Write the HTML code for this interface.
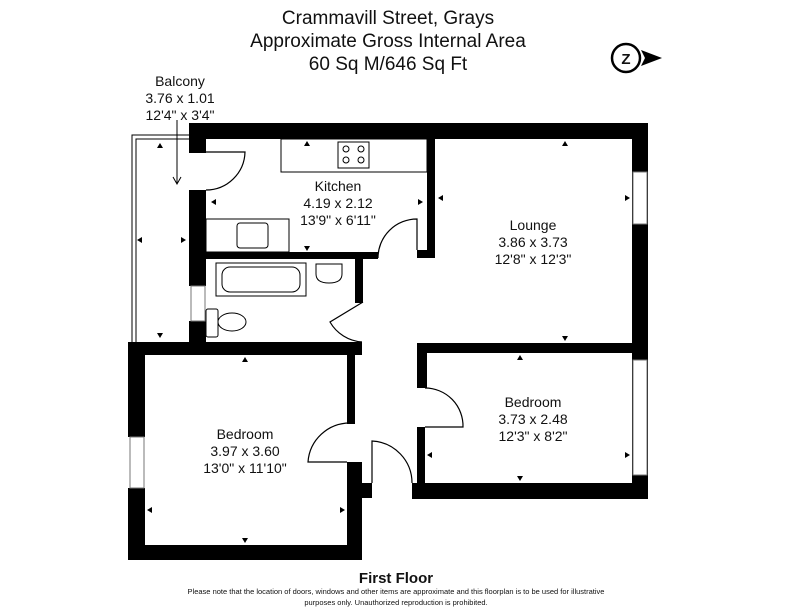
<!DOCTYPE html>
<html><head><meta charset="utf-8"><style>
body{margin:0;background:#fff}
svg{display:block}
text{font-family:"Liberation Sans",sans-serif;fill:#111}
</style></head><body>
<svg width="792" height="612" viewBox="0 0 792 612" xmlns="http://www.w3.org/2000/svg">
<g text-anchor="middle" font-size="19">
<text x="388" y="24">Crammavill Street, Grays</text>
<text x="388" y="47">Approximate Gross Internal Area</text>
<text x="388" y="70">60 Sq M/646 Sq Ft</text>
</g>
<circle cx="626" cy="58" r="14" fill="#fff" stroke="#000" stroke-width="2.5"/>
<text x="626" y="64" text-anchor="middle" font-size="15" font-weight="bold">Z</text>
<polygon points="641,50 662,58 641,66 645,58" fill="#000"/>
<g text-anchor="middle" font-size="14">
<text x="180" y="86">Balcony</text>
<text x="180" y="103">3.76 x 1.01</text>
<text x="180" y="120">12'4" x 3'4"</text>
<text x="338" y="191">Kitchen</text>
<text x="338" y="208">4.19 x 2.12</text>
<text x="338" y="225">13'9" x 6'11"</text>
<text x="533" y="230">Lounge</text>
<text x="533" y="247">3.86 x 3.73</text>
<text x="533" y="264">12'8" x 12'3"</text>
<text x="533" y="407">Bedroom</text>
<text x="533" y="424">3.73 x 2.48</text>
<text x="533" y="441">12'3" x 8'2"</text>
<text x="245" y="439">Bedroom</text>
<text x="245" y="456">3.97 x 3.60</text>
<text x="245" y="473">13'0" x 11'10"</text>
</g>
<text x="396" y="583" text-anchor="middle" font-size="15" font-weight="bold">First Floor</text>
<g text-anchor="middle" font-size="7.5" style="fill:#888">
<text x="396" y="594">Please note that the location of doors, windows and other items are approximate and this floorplan is to be used for illustrative</text>
<text x="396" y="605">purposes only. Unauthorized reproduction is prohibited.</text>
</g>
<!-- balcony -->
<g fill="none" stroke="#000" stroke-width="1">
<path d="M189,135 H132 V342"/><path d="M189,139 H136 V342"/>
<line x1="177" y1="120" x2="177" y2="183"/><path d="M173,177 L177,184 L181,177"/>
</g>
<!-- walls -->
<g fill="#000">
<rect x="189" y="123" width="459" height="16"/>
<rect x="189" y="123" width="17" height="30"/>
<rect x="189" y="190" width="17" height="68"/>
<rect x="427" y="138" width="8" height="120"/>
<rect x="417" y="250" width="18" height="8"/>
<rect x="189" y="252" width="189" height="7"/>
<rect x="632" y="123" width="16" height="376"/>
<rect x="189" y="258" width="17" height="28"/>
<rect x="189" y="321" width="17" height="25"/>
<rect x="355" y="258" width="8" height="45"/>
<rect x="128" y="342" width="234" height="13"/>
<rect x="128" y="342" width="17" height="95"/>
<rect x="128" y="488" width="17" height="72"/>
<rect x="128" y="545" width="234" height="15"/>
<rect x="347" y="342" width="8" height="82"/>
<rect x="347" y="462" width="15" height="98"/>
<rect x="355" y="483" width="17" height="15"/>
<rect x="427" y="343" width="221" height="10"/>
<rect x="417" y="343" width="10" height="45"/>
<rect x="417" y="427" width="8" height="60"/>
<rect x="412" y="483" width="236" height="16"/>
</g>
<!-- windows -->
<g fill="#fff" stroke="#777" stroke-width="1">
<rect x="633" y="172" width="14" height="52"/>
<rect x="633" y="360" width="14" height="115"/>
<rect x="130" y="437" width="14" height="51"/>
<rect x="191" y="286" width="14" height="35"/>
</g>
<!-- doors -->
<g fill="none" stroke="#000" stroke-width="1.2">
<path d="M206,152 H245 A39,39 0 0 1 206,190"/>
<path d="M378,258 A39,39 0 0 1 417,219 V250"/>
<path d="M363,302 L330,322 A40,40 0 0 0 362,342"/>
<path d="M347,462 H308 A42,42 0 0 1 350,423"/>
<path d="M372,483 V441 A42,42 0 0 1 412,483"/>
<path d="M425,427 H463 A38,38 0 0 0 425,388"/>
</g>
<!-- fixtures -->
<g fill="none" stroke="#000" stroke-width="1">
<rect x="281" y="139" width="146" height="33"/>
<rect x="338" y="142" width="31" height="26"/>
<circle cx="346" cy="149" r="3"/><circle cx="361" cy="149" r="3"/>
<circle cx="346" cy="160" r="3"/><circle cx="361" cy="160" r="3"/>
<rect x="206" y="219" width="83" height="33"/>
<rect x="237" y="223" width="31" height="25" rx="3"/>
<rect x="216" y="263" width="90" height="33"/>
<rect x="222" y="267" width="78" height="25" rx="8"/>
<path d="M316,264 H342 V274 Q342,283 329,283 Q316,283 316,274 Z"/>
<rect x="206" y="309" width="12" height="28" rx="2"/>
<ellipse cx="232" cy="322" rx="14" ry="9"/>
</g>
<!-- dimension arrows -->
<g fill="#000">
<polygon points="160,143 163,148 157,148"/><polygon points="160,338 163,333 157,333"/>
<polygon points="137,240 142,237 142,243"/><polygon points="186,240 181,237 181,243"/>
<polygon points="211,202 216,199 216,205"/><polygon points="423,202 418,199 418,205"/>
<polygon points="307,141 310,146 304,146"/><polygon points="307,251 310,246 304,246"/>
<polygon points="565,141 568,146 562,146"/><polygon points="565,341 568,336 562,336"/>
<polygon points="438,198 443,195 443,201"/><polygon points="630,198 625,195 625,201"/>
<polygon points="245,357 248,362 242,362"/><polygon points="245,543 248,538 242,538"/>
<polygon points="147,510 152,507 152,513"/><polygon points="345,510 340,507 340,513"/>
<polygon points="520,355 523,360 517,360"/><polygon points="520,481 523,476 517,476"/>
<polygon points="427,455 432,452 432,458"/><polygon points="630,455 625,452 625,458"/>
</g>
</svg>
</body></html>
